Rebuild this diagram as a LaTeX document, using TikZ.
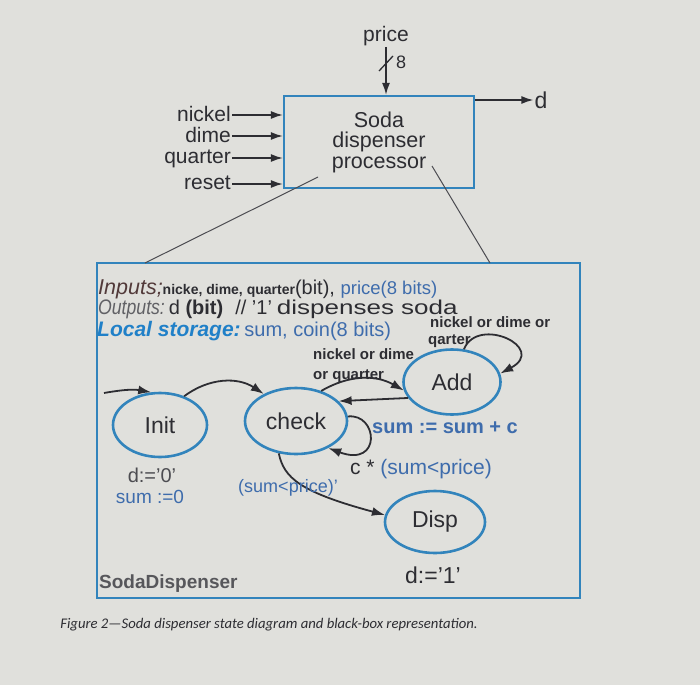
\documentclass[tikz,border=0pt]{standalone}
\usepackage{fontspec}
\usepackage{graphicx}
\setmainfont{Liberation Sans}
\newfontfamily\capfont{Carlito}
\usetikzlibrary{arrows.meta, positioning, shapes.geometric, calc}

\definecolor{paper}{RGB}{224,224,220}
\definecolor{boxblue}{RGB}{50,132,188}
\definecolor{ink}{RGB}{45,45,50}
\definecolor{actblue}{RGB}{62,108,172}
\definecolor{storeblue}{RGB}{32,128,200}
\definecolor{inred}{RGB}{82,58,58}
\newcommand{\sz}[2]{\fontsize{#1}{#2}\selectfont}

\begin{document}
\begin{tikzpicture}[x=1pt, y=-1pt,
    % styles for the black box
    box/.style={draw=boxblue, line width=2.2pt, rectangle},
    sig/.style={font=\sz{21}{23}, text=ink, inner sep=1pt},
    wire/.style={draw=ink, line width=1.6pt, -{Latex[length=12pt,width=8pt]}},
    zoomline/.style={draw=ink!85, line width=1pt},
    decl/.style={anchor=base west, inner sep=0pt, text depth=1pt},
    % styles for the state diagram
    state/.style={ellipse, draw=boxblue, line width=2.6pt, text=ink, font=\sz{23}{25}, inner sep=0pt},
    trans/.style={draw=ink, line width=1.8pt, -{Latex[length=13pt,width=9pt]}},
    lbl/.style={font=\bfseries\sz{15}{17}, text=ink, inner sep=0pt, anchor=base west},
    act/.style={font=\sz{20}{22}, text=actblue, inner sep=0pt}]

\fill[paper] (0,0) rectangle (700,685);
\useasboundingbox (0,0) rectangle (700,685);

% Black box of the processor
\node[box, minimum width=190pt, minimum height=92pt, align=center, font=\sz{21.5}{20.5}, text=ink] (proc) at (379,142) {Soda\\dispenser\\processor};
\node[sig] (price) at (386,36) {price};
\draw[wire] (price.south) -- (price.south |- proc.north);
\draw[ink, line width=1.3pt] (379,71) -- (393,56);
\node[sig, font=\sz{18}{20}] (bits) at (401,62) {8};
\node[sig, font=\sz{23}{25}] (d) at (541,100) {d};
\draw[wire] (proc.east |- d) -- (d.west);
\foreach \inp/\y in {nickel/115, dime/136, quarter/158, reset/184} {
    \node[sig, anchor=east, text depth=2pt] (\inp) at (232,\y) {\inp};
    \draw[wire] (\inp.east) -- (\inp.east -| proc.west);
}

% Zoom into the state machine
\node[box, minimum width=483pt, minimum height=335pt] (sd) at (338.5,430.5) {};
\coordinate (z1) at (318,177);
\coordinate (z1b) at (145,263);
\coordinate (z2) at (432,166);
\coordinate (z2b) at (490,263);
\draw[zoomline] (z1) -- (z1b);
\draw[zoomline] (z2) -- (z2b);

% Declarations
\node[decl, text=ink] (ins) at (98,294) {{\itshape\sz{21.5}{23}\color{inred}Inputs;}{\bfseries\sz{14}{16}nicke, dime, quarter}{\sz{20}{22}(bit), }{\sz{18.5}{20}\color{actblue}price(8 bits)}};
\node[decl, text=ink, text depth=0pt] (outs) at (98,314) {\scalebox{0.84}[1]{\itshape\sz{21}{23}\color{ink!75}Outputs:}\hspace{4pt}{\sz{20}{22}d \textbf{(bit)}\hspace{12pt}// '1'\hspace{5pt}\scalebox{1.3}[1]{dispenses soda}}};
\node[decl] (store) at (97,336) {{\bfseries\itshape\sz{21}{23}\color{storeblue}Local storage:} {\sz{20}{22}\color{actblue}sum, coin(8 bits)}};

% States
\node[state, minimum width=94pt, minimum height=64pt] (init) at (160,425) {Init};
\node[state, minimum width=102pt, minimum height=66pt] (check) at (296,421) {check};
\node[state, minimum width=97pt, minimum height=65pt] (add) at (452,382) {Add};
\node[state, minimum width=100pt, minimum height=62pt] (disp) at (435,522) {Disp};

% Transitions
\coordinate (rst) at (104,393);
\draw[trans] (rst) to[out=10, in=170] (init.105);
\draw[trans] (init.50) to[bend left=35] (check.140);
\draw[trans] (check.50) to[bend left=30] (add.190);
\draw[trans] (add.200) -- (check.25);
\draw[trans] (add.70) .. controls (478,315) and (548,348) .. (add.10);
\draw[trans] (check.5) .. controls (378,413) and (382,468) .. (check.-40);
\draw[trans] (check.-118) .. controls (284,478) and (300,492) .. (disp.172);

% Conditions and actions
\node[lbl] (c1) at (430,327) {nickel or dime or};
\node[lbl] (c2) at (428,344) {qarter};
\node[lbl] (c3) at (313,359) {nickel or dime};
\node[lbl] (c4) at (313,379) {or quarter};
\node[act, text=ink!85, anchor=base, text depth=0pt] (a1) at (152,482) {d:='0'};
\node[act, font=\sz{19}{21}, anchor=base, text depth=0pt] (a2) at (150,503) {sum :=0};
\node[act, font=\sz{18}{20}] (c5) at (288,488) {(sum<price)'};
\node[act, font=\bfseries\sz{20}{22}] (a3) at (445,428) {sum := sum + c};
\node[act, font=\sz{21}{23}] (c6) at (421,469) {{\color{ink}c *} (sum<price)};
\node[act, text=ink, font=\sz{23}{25}] (a4) at (433,575) {d:='1'};
\node[anchor=base west, inner sep=0pt, font=\bfseries\sz{19}{21}, text=ink!80] (name) at (99,588) {SodaDispenser};

% Caption
\node[font=\capfont\itshape\sz{14.7}{16}, text=ink] (cap) at (269,625) {Figure 2—Soda dispenser state diagram and black-box representation.};
\end{tikzpicture}
\end{document}
